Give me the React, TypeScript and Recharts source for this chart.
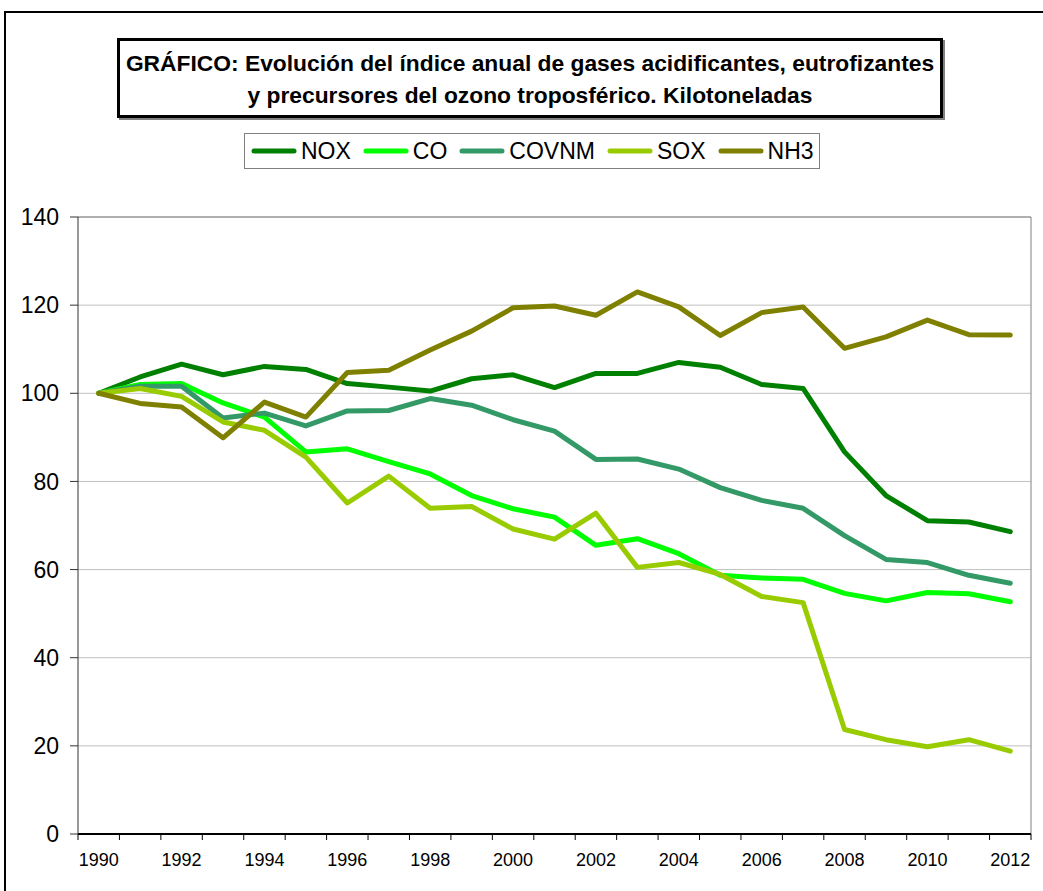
import React from 'react';
import { LineChart, Line, XAxis, YAxis, CartesianGrid, Legend, ReferenceLine } from 'recharts';

const years = [1990, 1991, 1992, 1993, 1994, 1995, 1996, 1997, 1998, 1999, 2000, 2001, 2002, 2003, 2004, 2005, 2006, 2007, 2008, 2009, 2010, 2011, 2012];

const nox = [100, 103.7, 106.6, 104.2, 106.1, 105.4, 102.2, 101.4, 100.5, 103.3, 104.2, 101.3, 104.5, 104.5, 107.0, 105.9, 102.0, 101.1, 86.7, 76.8, 71.1, 70.8, 68.6];
const co = [100, 102.0, 102.2, 97.8, 94.6, 86.7, 87.4, 84.5, 81.7, 76.8, 73.8, 71.9, 65.5, 67.0, 63.6, 58.7, 58.1, 57.8, 54.6, 52.9, 54.8, 54.5, 52.7];
const covnm = [100, 101.6, 101.6, 94.4, 95.5, 92.6, 96.0, 96.1, 98.8, 97.3, 94.0, 91.4, 85.0, 85.1, 82.8, 78.6, 75.7, 73.9, 67.7, 62.3, 61.6, 58.7, 56.9];
const sox = [100, 101.1, 99.3, 93.5, 91.6, 85.5, 75.1, 81.2, 73.9, 74.3, 69.2, 66.9, 72.8, 60.5, 61.6, 58.9, 53.9, 52.5, 23.7, 21.4, 19.8, 21.4, 18.8];
const nh3 = [100, 97.7, 96.9, 89.9, 98.0, 94.6, 104.7, 105.2, 109.8, 114.1, 119.4, 119.8, 117.7, 123.0, 119.6, 113.1, 118.3, 119.6, 110.2, 112.8, 116.6, 113.3, 113.2];

const yTicks = [0, 20, 40, 60, 80, 100, 120, 140];
const yearLabels = [1990, 1992, 1994, 1996, 1998, 2000, 2002, 2004, 2006, 2008, 2010, 2012];

const series = [
  { key: 'NOX', color: '#008000' },
  { key: 'CO', color: '#00ff00' },
  { key: 'COVNM', color: '#339966' },
  { key: 'SOX', color: '#99cc00' },
  { key: 'NH3', color: '#808000' },
];

const data = years.map((year, i) => ({
  year,
  NOX: nox[i],
  CO: co[i],
  COVNM: covnm[i],
  SOX: sox[i],
  NH3: nh3[i],
}));

// tick marks sit between the years, labels on every other year
const boundaries = [...years.map((y) => y - 0.5), years[years.length - 1] + 0.5];
const xTicks = [...boundaries, ...yearLabels];

const FONT = '"Liberation Sans", Arial, sans-serif';

const YearTick = ({ x, y, payload }: any) => {
  const v = payload.value;
  if (!Number.isInteger(v)) {
    return <line x1={x} x2={x} y1={y} y2={y + 6} stroke="#000" strokeWidth={1} />;
  }
  return (
    <text x={x} y={y + 32} textAnchor="middle" fontSize={18} fill="#000">
      {v}
    </text>
  );
};

const LegendBox = () => (
  <div
    style={{
      boxSizing: 'border-box',
      width: 576,
      height: 36,
      border: '1px solid #808080',
      display: 'flex',
      alignItems: 'center',
      paddingLeft: 6,
      fontFamily: FONT,
      fontSize: 23,
      color: '#000',
      background: '#fff',
    }}
  >
    {series.map((s, i) => (
      <div key={s.key} style={{ display: 'flex', alignItems: 'center', marginRight: i < series.length - 1 ? 12 : 0 }}>
        <svg width={46} height={8} style={{ marginRight: 4 }}>
          <line x1={3} x2={43} y1={4} y2={4} stroke={s.color} strokeWidth={5} strokeLinecap="round" />
        </svg>
        <span style={{ lineHeight: '26px' }}>{s.key}</span>
      </div>
    ))}
  </div>
);

export default function App() {
  return (
    <div style={{ position: 'absolute', left: 0, top: 0, width: 1043, height: 891, overflow: 'hidden', background: '#fff' }}>
      <div
        style={{
          position: 'absolute',
          left: 4,
          top: 11,
          width: 1100,
          height: 1000,
          borderTop: '2px solid #000',
          borderLeft: '2px solid #000',
        }}
      />
      <div
        style={{
          position: 'absolute',
          left: 117,
          top: 38,
          width: 826,
          height: 80,
          boxSizing: 'border-box',
          border: '3px solid #000',
          boxShadow: '2px 2px 0 #808080',
          fontFamily: FONT,
          fontWeight: 'bold',
          fontSize: 22.8,
          lineHeight: '32px',
          paddingTop: 6,
          textAlign: 'center',
          color: '#000',
          background: '#fff',
        }}
      >
        GRÁFICO: Evolución del índice anual de gases acidificantes, eutrofizantes
        <br />
        y precursores del ozono troposférico. Kilotoneladas
      </div>
      <div style={{ position: 'absolute', left: 0, top: 0 }}>
        <LineChart
          width={1043}
          height={891}
          data={data}
          margin={{ top: 217, right: 12, bottom: 0, left: 0 }}
          style={{ fontFamily: FONT }}
        >
          <CartesianGrid vertical={false} stroke="#c0c0c0" />
          <XAxis
            dataKey="year"
            type="number"
            domain={[1989.5, 2012.5]}
            ticks={xTicks}
            interval={0}
            tick={<YearTick />}
            tickLine={false}
            tickSize={0}
            tickMargin={0}
            height={57}
            axisLine={{ stroke: '#000', strokeWidth: 2 }}
          />
          <YAxis
            domain={[0, 140]}
            ticks={yTicks}
            interval={0}
            width={78}
            tickSize={8}
            tickMargin={11}
            axisLine={{ stroke: '#333' }}
            tickLine={{ stroke: '#333' }}
            tick={{ fill: '#000', fontSize: 23 }}
          />
          <ReferenceLine y={140} stroke="#808080" />
          <ReferenceLine x={2012.5} stroke="#808080" />
          <Legend
            layout="vertical"
            align="center"
            verticalAlign="middle"
            wrapperStyle={{ left: 244, top: 133, width: 576, height: 36 }}
            content={() => <LegendBox />}
          />
          {series.map((s) => (
            <Line
              key={s.key}
              type="linear"
              dataKey={s.key}
              stroke={s.color}
              strokeWidth={5}
              strokeLinejoin="round"
              strokeLinecap="round"
              dot={false}
              activeDot={false}
              isAnimationActive={false}
            />
          ))}
        </LineChart>
      </div>
    </div>
  );
}
